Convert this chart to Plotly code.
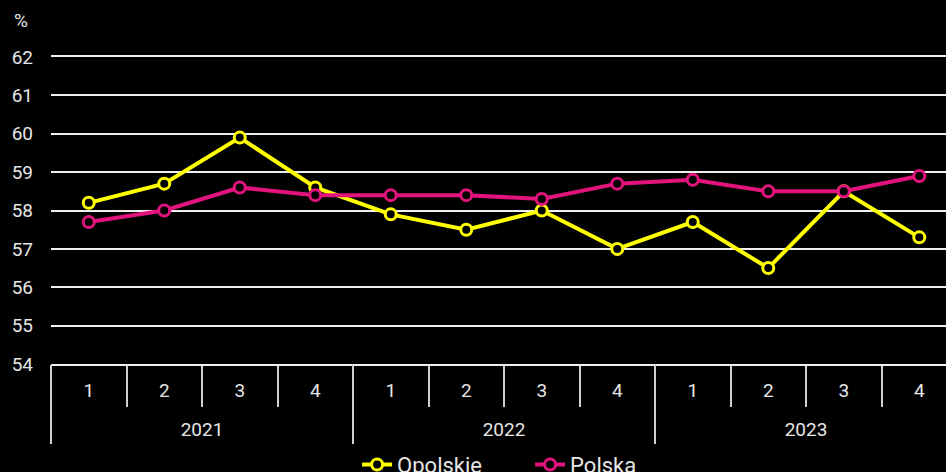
import plotly.graph_objects as go

years = ["2021", "2022", "2023"]
quarters = ["1", "2", "3", "4"] * 3
opolskie = [58.2, 58.7, 59.9, 58.6, 57.9, 57.5, 58.0, 57.0, 57.7, 56.5, 58.5, 57.3]
polska = [57.7, 58.0, 58.6, 58.4, 58.4, 58.4, 58.3, 58.7, 58.8, 58.5, 58.5, 58.9]
y_ticks = [54, 55, 56, 57, 58, 59, 60, 61, 62]

YELLOW = "#FFFF00"
PINK = "#E2137D"
FONT = "Roboto"
TXT = "#e6e6e6"
DIV = "#d0d0d0"

n = len(quarters)
xpos = list(range(n))
year_pos = [i * 4 + 1.5 for i in range(len(years))]
xr = [-0.5, 11.354]

fig = go.Figure()
for name, vals, col in [("Opolskie", opolskie, YELLOW), ("Polska", polska, PINK)]:
    fig.add_trace(go.Scatter(
        x=xpos, y=vals, name=name, mode="lines+markers",
        line=dict(color=col, width=4),
        marker=dict(symbol="circle", size=11, color="black", line=dict(color=col, width=3)),
    ))
# helper trace so that the year axis is drawn
fig.add_trace(go.Scatter(x=year_pos, y=[None] * len(years), xaxis="x2", yaxis="y",
                         mode="markers", showlegend=False, hoverinfo="skip"))

fig.update_layout(
    width=946, height=472,
    paper_bgcolor="black", plot_bgcolor="black",
    margin=dict(l=51, r=0, t=57, b=108),
    font=dict(family=FONT, color=TXT, size=19),
    showlegend=True,
    legend=dict(orientation="h", x=0.342, xanchor="left", yref="container", y=0.06, yanchor="top",
                font=dict(size=22, color=TXT), bgcolor="rgba(0,0,0,0)", entrywidth=128),
    xaxis=dict(
        range=xr, tickvals=xpos, ticktext=quarters, ticks="",
        showgrid=False, zeroline=False, showline=True, linecolor="#f0f0f0", linewidth=1.5, mirror=True,
        ticklabelstandoff=8,
        minor=dict(ticks="outside", tick0=-0.5, dtick=1, ticklen=41, tickcolor=DIV, tickwidth=1.5, showgrid=False),
        tickfont=dict(size=19, color=TXT),
    ),
    xaxis2=dict(
        range=xr, overlaying="x", anchor="y", side="bottom",
        tickvals=year_pos, ticktext=years, ticks="",
        showgrid=False, zeroline=False, showline=False,
        ticklabelstandoff=52,
        minor=dict(ticks="outside", tick0=-0.5, dtick=4, ticklen=79, tickcolor=DIV, tickwidth=1.5, showgrid=False),
        tickfont=dict(size=19, color=TXT),
    ),
    yaxis=dict(
        range=[54, 62], tickvals=y_ticks, showgrid=True, gridcolor="#f0f0f0", gridwidth=1.5,
        zeroline=False, showline=False, ticks="", ticklabelstandoff=17,
        tickfont=dict(size=19, color=TXT),
    ),
    annotations=[dict(text="%", xref="paper", yref="paper", x=-0.034, y=(472 - 21 - 108) / 307,
                      xanchor="center", yanchor="middle", showarrow=False,
                      font=dict(size=19, color=TXT))],
)

fig.write_html("out.html", config={"displayModeBar": False},
               post_script="document.body.style.margin='0';document.body.style.background='black';")
